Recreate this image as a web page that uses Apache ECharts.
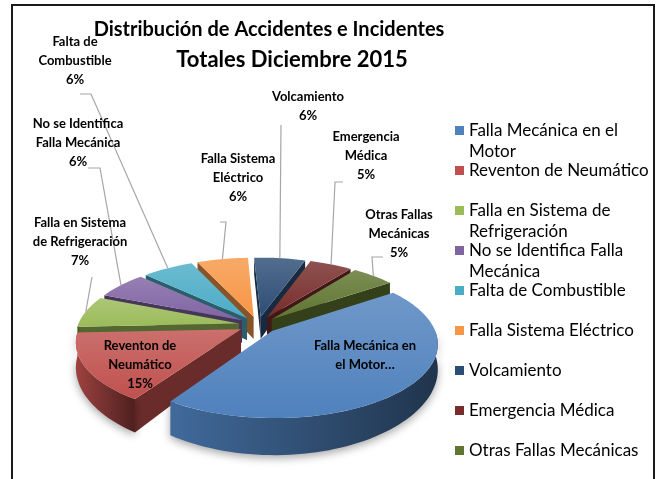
<!DOCTYPE html>
<html>
<head>
<meta charset="utf-8">
<script src="https://cdn.jsdelivr.net/npm/echarts@6/dist/echarts.min.js"></script>
<style>
html, body { margin: 0; padding: 0; background: #fff; }
#chart { width: 659px; height: 479px; }
</style>
</head>
<body>
<div id="chart"></div>
<script>
var categories = ['Falla Mecánica en el Motor', 'Reventon de Neumático', 'Falla en Sistema de Refrigeración',
    'No se Identifica Falla Mecánica', 'Falta de Combustible', 'Falla Sistema Eléctrico',
    'Volcamiento', 'Emergencia Médica', 'Otras Fallas Mecánicas'];
var values = [44, 15, 7, 6, 6, 6, 6, 5, 5];
// etiquetas como salen en el grafico (la primera va cortada)
var labelNames = ['Falla Mecánica en\nel Motor…', 'Reventon de\nNeumático', 'Falla en Sistema\nde Refrigeración',
    'No se Identifica\nFalla Mecánica', 'Falta de\nCombustible', 'Falla Sistema\nEléctrico',
    'Volcamiento', 'Emergencia\nMédica', 'Otras Fallas\nMecánicas'];
var showPercent = [false, true, true, true, true, true, true, true, true];
var legendNames = ['Falla Mecánica en el\nMotor', 'Reventon de Neumático', 'Falla en Sistema de\nRefrigeración',
    'No se Identifica Falla\nMecánica', 'Falta de Combustible', 'Falla Sistema Eléctrico',
    'Volcamiento', 'Emergencia Médica', 'Otras Fallas Mecánicas'];

var colors = ['#4f81bd', '#c0504d', '#9bbb59', '#8064a2', '#4bacc6', '#f79646', '#2c4d75', '#772c2a', '#5f7530'];
var firstAngle = 55;   // grados, horario desde arriba
var explode = 0.12;
var persp = 0.16;      // perspectiva del plano superior
var depth = 23;        // alto del cilindro (en el centro)
var depthPersp = 0.35;
var font = 'Lato';
// posicion de las etiquetas y de sus lineas guia (px)
var labelPos = [[365, 355], [140, 365], [80, 242], [78, 143], [75, 61], [238, 178], [308, 106], [366, 156], [399, 234]];
var leaders = [null, null, [[92, 277], [92, 277]], [[88, 168], [100, 168]], [[80, 94], [91, 94]],
    [[220, 222], [226, 222]], [[281, 125], [281, 125]], [[343, 182], [335, 182]], [[383, 257], [372, 257]]];

var RAD = Math.PI / 180;
var total = values.reduce(function (a, b) { return a + b; }, 0);

function mix(hex, t) {
    var n = parseInt(hex.slice(1), 16), r = n >> 16, g = (n >> 8) & 255, b = n & 255;
    function f(v) { return Math.round(t > 0 ? v + (255 - v) * t : v * (1 + t)); }
    return 'rgb(' + f(r) + ',' + f(g) + ',' + f(b) + ')';
}

// angulos de cada tajada
var slices = [];
var acc = firstAngle;
values.forEach(function (v) {
    var span = v / total * 360;
    slices.push([acc, acc + span]);
    acc += span;
});
// orden de pintado: de atras hacia adelante
var order = slices.map(function (s, i) { return i; }).sort(function (a, b) {
    var ma = (slices[a][0] + slices[a][1]) / 2 * RAD, mb = (slices[b][0] + slices[b][1]) / 2 * RAD;
    return Math.cos(mb) - Math.cos(ma);
});

function renderSlice(params, api) {
    var i = params.seriesIndex;
    var a0 = api.value(0) * RAD, a1 = api.value(1) * RAD;
    var mid = (a0 + a1) / 2;
    var ox = explode * Math.sin(mid), oy = explode * Math.cos(mid);
    function proj(u, v, down) {
        var w = 1 + persp * v;
        var p = api.coord([u / w, v / w]);
        return [p[0], p[1] + (down ? depth / (1 + depthPersp * v) : 0)];
    }
    function rim(t, down) {
        return proj(ox + Math.sin(t), oy + Math.cos(t), down);
    }
    function arc(t0, t1, down) {
        var n = Math.max(2, Math.ceil((t1 - t0) / (2 * RAD)));
        var pts = [];
        for (var k = 0; k <= n; k++) pts.push(rim(t0 + (t1 - t0) * k / n, down));
        return pts;
    }
    var c = proj(ox, oy), cd = proj(ox, oy, true);
    var base = colors[i];
    var wall = mix(base, -0.45);
    var kids = [];

    if (Math.sin(a0) < 0) {
        kids.push({ type: 'polygon', shape: { points: [c, rim(a0), rim(a0, true), cd] }, style: { fill: wall } });
    }
    if (Math.sin(a1) > 0) {
        kids.push({ type: 'polygon', shape: { points: [c, rim(a1), rim(a1, true), cd] }, style: { fill: wall } });
    }
    var f0 = Math.max(a0, Math.PI / 2), f1 = Math.min(a1, Math.PI * 1.5);
    if (f1 > f0) {
        var front = arc(f0, f1, false).concat(arc(f0, f1, true).reverse());
        kids.push({
            type: 'polygon', shape: { points: front },
            style: {
                fill: new echarts.graphic.LinearGradient(0, 0, 1, 0, [
                    { offset: 0, color: mix(base, -0.18) }, { offset: 1, color: mix(base, -0.6) }]),
                shadowBlur: 8, shadowColor: 'rgba(0,0,0,0.35)', shadowOffsetY: 3
            }
        });
    }
    kids.push({
        type: 'polygon', shape: { points: [c].concat(arc(a0, a1, false)) },
        style: {
            fill: new echarts.graphic.LinearGradient(0, 0, 0, 1, [
                { offset: 0, color: mix(base, 0.18) }, { offset: 1, color: base }])
        }
    });

    var txt = labelNames[i] + (showPercent[i] ? '\n' + Math.round(values[i] / total * 100) + '%' : '');
    kids.push({
        type: 'text', z2: 50,
        style: {
            text: txt, x: labelPos[i][0], y: labelPos[i][1], align: 'center', verticalAlign: 'middle',
            fontFamily: font, fontWeight: 'bold', fontSize: 13, lineHeight: 19, fill: '#000'
        }
    });
    if (leaders[i]) {
        kids.push({
            type: 'polyline', z2: 40,
            shape: { points: [leaders[i][0], leaders[i][1], rim(mid)] },
            style: { stroke: '#a6a6a6', lineWidth: 1.2, fill: null }
        });
    }
    return { type: 'group', children: kids };
}

var series = categories.map(function (name, i) {
    return {
        type: 'custom',
        name: name,
        z: 2 + order.indexOf(i),
        coordinateSystem: 'cartesian2d',
        itemStyle: { color: colors[i] },
        renderItem: renderSlice,
        silent: true,
        data: [slices[i]]
    };
});

var chart = echarts.init(document.getElementById('chart'));
chart.setOption({
    animation: false,
    color: colors,
    grid: { left: 97, top: 254, width: 322, height: 142 },
    xAxis: { type: 'value', min: -1, max: 1, show: false },
    yAxis: { type: 'value', min: -1, max: 1, show: false },
    legend: {
        orient: 'vertical', left: 455, top: 99, height: 420, padding: 0,
        itemWidth: 9, itemHeight: 9, itemGap: -23, icon: 'rect',
        selectedMode: false,
        data: categories,
        formatter: function (name) {
            var s = legendNames[categories.indexOf(name)];
            return '\n' + (s.indexOf('\n') < 0 ? s + '\n ' : s);
        },
        textStyle: { fontFamily: font, fontSize: 17, color: '#000', lineHeight: 21 }
    },
    graphic: [
        { type: 'rect', shape: { x: 12, y: 5, width: 642, height: 520 }, style: { fill: null, stroke: '#1a1a1a', lineWidth: 2 } },
        { type: 'text', x: 269, y: 30, style: { text: 'Distribución de Accidentes e Incidentes', align: 'center', verticalAlign: 'middle', fontFamily: font, fontWeight: 'bold', fontSize: 20, fill: '#000' } },
        { type: 'text', x: 292, y: 60, style: { text: 'Totales Diciembre 2015', align: 'center', verticalAlign: 'middle', fontFamily: font, fontWeight: 'bold', fontSize: 22, fill: '#000' } }
    ],
    series: series
});
</script>
</body>
</html>
